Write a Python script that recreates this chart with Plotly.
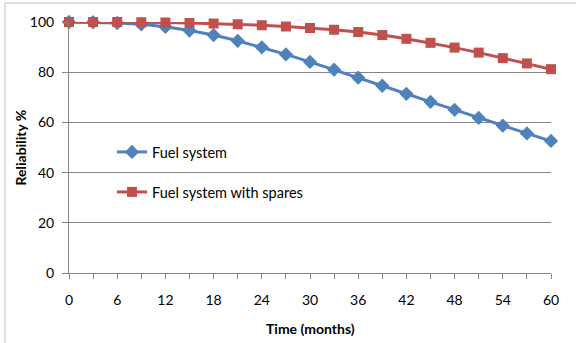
import plotly.graph_objects as go

months = [0, 3, 6, 9, 12, 15, 18, 21, 24, 27, 30, 33, 36, 39, 42, 45, 48, 51, 54, 57, 60]
fuel_system = [100, 99.9, 99.6, 99.1, 98.1, 96.6, 94.8, 92.5, 89.9, 87.1, 84.1,
               81.0, 77.8, 74.6, 71.4, 68.2, 65.0, 61.8, 58.7, 55.6, 52.6]
fuel_spares = [100, 100, 100, 99.9, 99.8, 99.6, 99.4, 99.1, 98.7, 98.2, 97.6,
               96.9, 96.0, 94.8, 93.3, 91.7, 89.8, 87.8, 85.6, 83.5, 81.2]
x_ticks = [0, 6, 12, 18, 24, 30, 36, 42, 48, 54, 60]
y_ticks = [0, 20, 40, 60, 80, 100]
x_title = "Time (months)"
y_title = "Reliability %"

FONT = "Lato, 'Open Sans', sans-serif"
L, R, T, B = 69, 25, 22, 70
W, H = 576, 343
pw, ph = W - L - R, H - T - B

fig = go.Figure()
fig.add_trace(go.Scatter(
    x=months, y=fuel_system, name="Fuel system", mode="lines+markers",
    line=dict(color="#4F81BD", width=3),
    marker=dict(symbol="diamond", size=11, color="#4F81BD"),
    cliponaxis=False, legend="legend"))
fig.add_trace(go.Scatter(
    x=months, y=fuel_spares, name="Fuel system with spares", mode="lines+markers",
    line=dict(color="#C0504D", width=3),
    marker=dict(symbol="square", size=10, color="#C0504D"),
    cliponaxis=False, legend="legend2"))

leg_common = dict(font=dict(family=FONT, size=14.5, color="#000000"),
                  bgcolor="rgba(0,0,0,0)", xanchor="left", yanchor="middle",
                  itemwidth=30)
fig.update_layout(
    width=W, height=H,
    margin=dict(l=L, r=R, t=T, b=B),
    paper_bgcolor="white", plot_bgcolor="white",
    font=dict(family=FONT, size=14, color="#000000"),
    showlegend=True,
    legend=dict(x=(112 - L) / pw, y=(H - B - 152) / ph, **leg_common),
    legend2=dict(x=(112 - L) / pw, y=(H - B - 192) / ph, **leg_common),
    xaxis=dict(
        range=[0, 60], tickvals=x_ticks, ticktext=[str(v) for v in x_ticks],
        showline=True, linecolor="#868686", linewidth=1,
        ticks="outside", ticklen=5, tickcolor="#868686",
        showgrid=False, zeroline=False, automargin=False,
        minor=dict(dtick=3, tick0=0, ticks="outside", ticklen=5, tickcolor="#868686", showgrid=False),
        tickfont=dict(family=FONT, size=14),
        ticklabelstandoff=9,
    ),
    yaxis=dict(
        range=[0, 100], tickvals=y_ticks,
        showline=True, linecolor="#868686", linewidth=1,
        ticks="outside", ticklen=6, tickcolor="#868686",
        showgrid=True, gridcolor="#868686", gridwidth=1, zeroline=False, automargin=False,
        tickfont=dict(family=FONT, size=14),
        ticklabelstandoff=5,
    ),
    annotations=[
        dict(text="<b>" + x_title + "</b>", xref="paper", yref="paper",
             x=0.5, y=(H - B - 328) / ph, xanchor="center", yanchor="middle",
             showarrow=False, font=dict(family=FONT, size=14)),
        dict(text="<b>" + y_title + "</b>", xref="paper", yref="paper",
             x=(20 - L) / pw, y=0.5, xanchor="center", yanchor="middle",
             textangle=-90, showarrow=False, font=dict(family=FONT, size=14)),
    ],
    shapes=[dict(type="rect", xref="paper", yref="paper",
                 x0=(5 - L) / pw, x1=(W + 5 - L) / pw,
                 y0=(H - B - (H + 5)) / ph, y1=(H - B - 3) / ph,
                 line=dict(color="#BFBFBF", width=1), layer="below")],
)

fig.write_html("out.html")
